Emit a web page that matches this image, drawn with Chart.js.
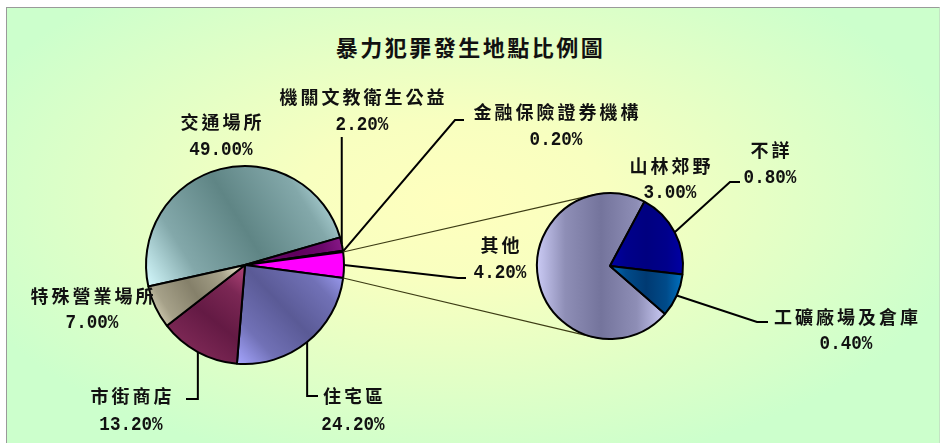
<!DOCTYPE html>
<html>
<head>
<meta charset="utf-8">
<script src="https://cdn.jsdelivr.net/npm/chart.js@4.4.0/dist/chart.umd.min.js"></script>
<style>
  html, body { margin: 0; padding: 0; width: 941px; height: 443px; overflow: hidden; background: #fff; }
  #frame {
    position: absolute; left: 6px; top: 7px; width: 932px; height: 440px;
    border-left: 1px solid #9a9a9a; border-top: 1px solid #9a9a9a; border-right: 1px solid #c4e4c4;
    background: radial-gradient(ellipse 56% 62% at 48% 44%, #ffffbe 0%, #f8ffc0 30%, #ccffcc 100%);
  }
  #title {
    position: absolute; left: 0; top: 31px; width: 941px; text-align: center;
    font: bold 22px "Noto Sans CJK TC"; letter-spacing: 2.5px; line-height: 30px; color: #111;
  }
  canvas { position: absolute; left: 0; top: 0; }
</style>
</head>
<body>
<div id="frame"></div>
<div id="title">暴力犯罪發生地點比例圖</div>
<canvas id="mainPie" width="941" height="443"></canvas>
<canvas id="subPie" width="941" height="443"></canvas>
<script>
// 主圓餅資料
const mainLabels = ['交通場所', '機關文教衛生公益', '金融保險證券機構', '其他', '住宅區', '市街商店', '特殊營業場所'];
const mainValues = [49.0, 2.2, 0.2, 4.2, 24.2, 13.2, 7.0];
// 「其他」拆開的小圓餅
const subLabels = ['山林郊野', '不詳', '工礦廠場及倉庫'];
const subValues = [3.0, 0.8, 0.4];

// 顏色 (淺, 深)
const mainLight = ['#d6fbff', '#8a1a8a', '#1a1a80', '#ff00ff', '#a6a6ff', '#b2467a', '#f2eed2'];
const mainDark  = ['#5f8585', '#5e005e', '#1a1a80', '#ff00ff', '#5a5a96', '#641a44', '#85806a'];
const subLight  = ['#cacaf4', '#0000a4', '#0072c2'];
const subDark   = ['#74749c', '#000080', '#003a72'];

const otherIdx = mainLabels.indexOf('其他');
const sum = arr => arr.reduce((s, v) => s + v, 0);
// 讓「其他」置中在右側水平線上
const mainRotation = 90 - (sum(mainValues.slice(0, otherIdx)) + mainValues[otherIdx] / 2) / sum(mainValues) * 360;
const subRotation = 131;

const pct = v => v.toFixed(2) + '%';

function mix(c1, c2, t) {
  const a = [1, 3, 5].map(k => parseInt(c1.substr(k, 2), 16));
  const b = [1, 3, 5].map(k => parseInt(c2.substr(k, 2), 16));
  return 'rgb(' + a.map((v, k) => Math.round(v + (b[k] - v) * t)).join(',') + ')';
}

// 扇形的範圍 (用來做漸層)
function arcBox(chart, values, idx) {
  const a = chart.chartArea;
  const cx = (a.left + a.right) / 2, cy = (a.top + a.bottom) / 2;
  const r = (Math.min(a.right - a.left, a.bottom - a.top) - 2) / 2;
  const total = sum(values);
  const start = (chart.options.rotation - 90) * Math.PI / 180 + sum(values.slice(0, idx)) / total * Math.PI * 2;
  const end = start + values[idx] / total * Math.PI * 2;
  const xs = [cx, cx + r * Math.cos(start), cx + r * Math.cos(end)];
  const ys = [cy, cy + r * Math.sin(start), cy + r * Math.sin(end)];
  for (let k = Math.ceil(start / (Math.PI / 2)); k * Math.PI / 2 < end; k++) {
    xs.push(cx + r * Math.cos(k * Math.PI / 2));
    ys.push(cy + r * Math.sin(k * Math.PI / 2));
  }
  return { x0: Math.min(...xs), x1: Math.max(...xs), y0: Math.min(...ys), y1: Math.max(...ys) };
}

function gradientFor(values, light, dark, horizontal) {
  return (c) => {
    const chart = c.chart;
    if (c.dataIndex === undefined || !chart.chartArea) return dark[0];
    const i = c.dataIndex;
    const b = arcBox(chart, values, i);
    const g = horizontal
      ? chart.ctx.createLinearGradient(b.x0, 0, b.x1, 0)
      : chart.ctx.createLinearGradient(b.x0, b.y1, b.x1, b.y0);
    g.addColorStop(0, light[i]);
    g.addColorStop(0.22, mix(light[i], dark[i], 0.7));
    g.addColorStop(0.5, dark[i]);
    g.addColorStop(0.78, mix(light[i], dark[i], 0.7));
    g.addColorStop(1, light[i]);
    return g;
  };
}

function drawWord(ctx, text, x, y) {
  ctx.save();
  ctx.font = 'bold 18px "Noto Sans CJK TC"';
  ctx.letterSpacing = '3px';
  ctx.textAlign = 'center';
  ctx.textBaseline = 'middle';
  ctx.fillStyle = '#111';
  ctx.fillText(text, x + 1.5, y);
  ctx.restore();
}

function drawNum(ctx, text, x, y) {
  ctx.save();
  ctx.font = 'bold 20px "Liberation Mono"';
  ctx.textAlign = 'center';
  ctx.textBaseline = 'middle';
  ctx.fillStyle = '#111';
  ctx.translate(x, y);
  ctx.scale(0.88, 1.05);
  ctx.fillText(text, 0, 0);
  ctx.restore();
}

// 標籤位置與引線
const mainLabelPos = [
  { x: 221, y: 122, y2: 150 },
  { x: 362, y: 97, y2: 125, via: [[null, 137]] },
  { x: 556, y: 112, y2: 140, via: [[455, 120], [464, 120]] },
  { x: 500, y: 245, y2: 273, via: [[458, 278], [466, 278]] },
  { x: 353, y: 396, y2: 425, via: [[null, 396], [318, 396]] },
  { x: 131, y: 396, y2: 425, via: [[null, 399], [186, 399]] },
  { x: 92, y: 296, y2: 323 }
];
const subLabelPos = [
  { x: 670, y: 166, y2: 193 },
  { x: 770, y: 150, y2: 178, via: [[730, 182], [740, 182]] },
  { x: 846, y: 317, y2: 344, via: [[757, 322], [768, 322]] }
];

function labelPlugin(labels, values, pos) {
  return {
    id: 'pieLabels',
    afterDraw(chart) {
      const ctx = chart.ctx;
      const arcs = chart.getDatasetMeta(0).data;
      arcs.forEach((arc, i) => {
        const p = pos[i];
        const a = arc.getProps(['x', 'y', 'startAngle', 'endAngle', 'outerRadius'], true);
        if (p.via) {
          const mid = (a.startAngle + a.endAngle) / 2;
          const sx = a.x + a.outerRadius * Math.cos(mid);
          const sy = a.y + a.outerRadius * Math.sin(mid);
          ctx.save();
          ctx.strokeStyle = '#000';
          ctx.lineWidth = 2;
          ctx.beginPath();
          ctx.moveTo(sx, sy);
          p.via.forEach(([vx, vy]) => ctx.lineTo(vx === null ? sx : vx, vy));
          ctx.stroke();
          ctx.restore();
        }
        drawWord(ctx, labels[i], p.x, p.y);
        drawNum(ctx, pct(values[i]), p.x, p.y2);
      });
    }
  };
}

const mainChart = new Chart(document.getElementById('mainPie'), {
  type: 'pie',
  data: {
    labels: mainLabels,
    datasets: [{
      data: mainValues,
      backgroundColor: gradientFor(mainValues, mainLight, mainDark, false),
      borderColor: '#000',
      borderWidth: 2
    }]
  },
  options: {
    responsive: false,
    animation: false,
    rotation: mainRotation,
    layout: { padding: { left: 145, right: 596, top: 165, bottom: 78 } },
    plugins: { legend: { display: false }, tooltip: { enabled: false } }
  },
  plugins: [labelPlugin(mainLabels, mainValues, mainLabelPos)]
});

// 兩個圓餅之間的連接線
const connectorPlugin = {
  id: 'connectors',
  beforeDatasetsDraw(chart) {
    const ctx = chart.ctx;
    const m = mainChart.getDatasetMeta(0).data[otherIdx].getProps(['x', 'y', 'startAngle', 'endAngle', 'outerRadius'], true);
    const s = chart.getDatasetMeta(0).data[0].getProps(['x', 'y', 'outerRadius'], true);
    const ends = [[m.startAngle, -1], [m.endAngle, 1]];
    ctx.save();
    ctx.strokeStyle = '#3c3c14';
    ctx.lineWidth = 1.2;
    ends.forEach(([ang, side]) => {
      const px = m.x + m.outerRadius * Math.cos(ang);
      const py = m.y + m.outerRadius * Math.sin(ang);
      const d = Math.hypot(s.x - px, s.y - py);
      const phi = Math.atan2(s.y - py, s.x - px);
      const u = phi + side * Math.asin(s.outerRadius / d);
      const n = u + side * Math.PI / 2;
      ctx.beginPath();
      ctx.moveTo(px, py);
      ctx.lineTo(s.x + s.outerRadius * Math.cos(n), s.y + s.outerRadius * Math.sin(n));
      ctx.stroke();
    });
    ctx.restore();
  }
};

const subChart = new Chart(document.getElementById('subPie'), {
  type: 'pie',
  data: {
    labels: subLabels,
    datasets: [{
      data: subValues,
      backgroundColor: gradientFor(subValues, subLight, subDark, true),
      borderColor: '#000',
      borderWidth: 2
    }]
  },
  options: {
    responsive: false,
    animation: false,
    rotation: subRotation,
    layout: { padding: { left: 536, right: 257, top: 192, bottom: 103 } },
    plugins: { legend: { display: false }, tooltip: { enabled: false } }
  },
  plugins: [connectorPlugin, labelPlugin(subLabels, subValues, subLabelPos)]
});
</script>
</body>
</html>
